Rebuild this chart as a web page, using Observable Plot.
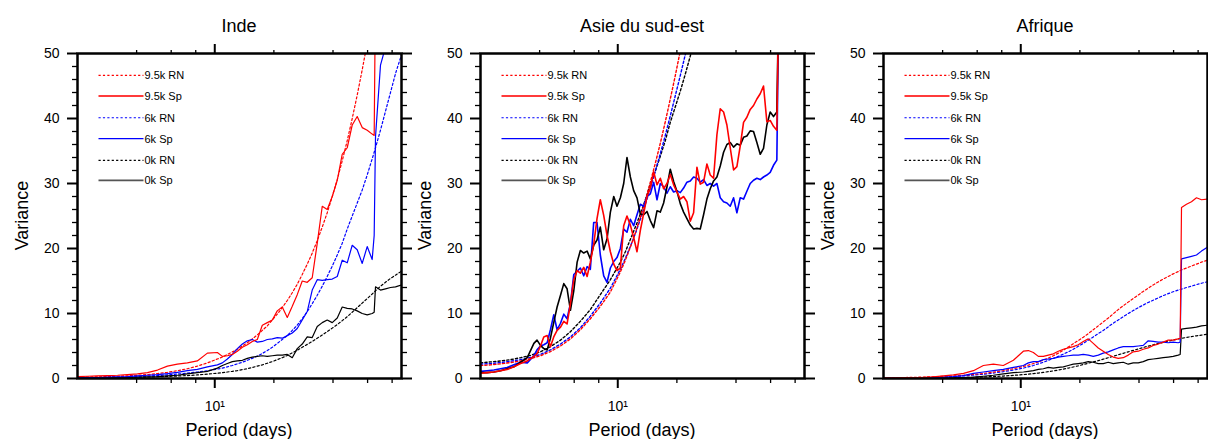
<!DOCTYPE html>
<html><head><meta charset="utf-8">
<script src="https://cdn.jsdelivr.net/npm/d3@7"></script>
<script src="https://cdn.jsdelivr.net/npm/@observablehq/plot@0.6"></script>
<style>
html,body{margin:0;padding:0;background:#fff;}
#chart{position:relative;width:1208px;height:439px;overflow:hidden;font-family:"Liberation Sans",Arial,Helvetica,sans-serif;}
#chart svg{position:absolute;top:0;overflow:visible;}
</style></head><body><div id="chart"></div>
<script>
// ---------- data ----------
const panelTitles = ["Inde", "Asie du sud-est", "Afrique"];
const legendLabels = ["9.5k RN", "9.5k Sp", "6k RN", "6k Sp", "0k RN", "0k Sp"];
const xLabel = "Period (days)";
const yLabel = "Variance";
const yMajorTicks = [0, 10, 20, 30, 40, 50];
const yMinorTicks = [2,4,6,8,12,14,16,18,22,24,26,28,32,34,36,38,42,44,46,48];
const xMajorTicks = [10];
const xMajorTickLabel = "10¹";
const xMinorTicks = [4, 6, 8, 20, 40, 60, 80];

// period grid (days) used by Inde / Afrique spectra and all red-noise curves
const periodsA = [2.00,2.25,2.53,2.84,3.20,3.59,4.04,4.54,5.11,5.74,6.45,7.25,8.15,9.17,10.31,10.93,11.59,12.29,13.03,13.82,14.65,15.53,16.47,17.46,18.51,19.63,20.81,22.06,23.40,24.81,26.30,27.89,29.57,31.35,33.25,35.26,37.38,39.65,42.04,44.57,47.26,50.11,53.13,56.34,59.73,63.32,64.82,65.84,69.80,74.00,78.50,83.22,89.28];
// finer period grid used by Asie du sud-est spectra
const periodsB = [2.00,2.16,2.34,2.53,2.73,2.96,3.20,3.46,3.74,3.88,4.04,4.20,
 4.37,4.54,4.72,4.91,5.11,5.31,5.52,5.74,5.97,6.21,
 6.45,6.71,6.98,7.25,7.54,7.84,8.15,8.48,8.82,9.17,
 9.54,9.91,10.31,10.72,11.14,11.59,12.05,12.53,13.03,13.55,
 14.09,14.65,15.23,15.84,16.47,17.12,17.81,18.51,19.25,20.01,
 20.81,21.64,22.50,23.40,24.33,25.30,26.30,27.35,28.44,29.57,
 30.75,31.98,33.25,34.58,35.95,37.38,38.88,40.42,42.04,43.70,
 45.44,47.26,49.13,51.09,53.13,55.23,57.43,59.73,62.09,64.57,
 66.10];

// Inde
const indeRN95 = [0.2,0.22,0.25,0.3,0.35,0.42,0.5,0.6,0.75,0.95,1.2,1.5,1.9,2.4,3.0,3.3,3.7,4.1,4.5,5.0,5.5,6.1,6.7,7.4,8.1,9.0,9.9,10.9,12.0,13.2,14.5,16.0,17.6,19.3,21.2,23.3,25.5,28.0,30.6,33.5,36.6,40.0,43.6,47.5,51.6];
const indeSp95 = [0.3,0.35,0.4,0.45,0.5,0.6,0.7,0.9,1.3,1.9,2.2,2.4,2.7,3.9,4.0,3.4,3.5,3.7,4.2,4.8,5.2,5.7,6.0,8.2,8.6,9.0,10.4,11.0,9.4,11.1,12.9,15.0,14.8,15.5,20.8,26.5,26.0,28.0,30.5,34.5,35.5,39.0,40.3,38.6,38.2,37.6,37.4,60];
const indeRN6 = [0.15,0.16,0.18,0.2,0.23,0.27,0.32,0.38,0.46,0.56,0.68,0.83,1.0,1.2,1.45,1.6,1.8,2.0,2.25,2.5,2.8,3.1,3.45,3.85,4.3,4.8,5.4,6.0,6.6,7.4,8.2,9.2,10.3,11.5,12.8,14.2,15.7,17.3,19.0,20.8,23.0,25.0,27.0,29.0,31.3,33.8,34.8,35.5,38.2,41.1,44.0,46.9,49.8];
const indeSp6 = [0.1,0.12,0.15,0.2,0.25,0.3,0.4,0.5,0.6,0.75,0.95,1.2,1.4,1.8,2.1,2.4,3.0,3.7,4.6,5.3,5.8,6.0,5.6,5.7,6.0,6.1,6.3,6.2,6.6,7.0,7.7,9.0,10.3,13.6,15.2,15.1,15.2,15.3,15.7,18.2,17.8,20.5,19.8,17.7,20.3,18.3,22.0,37.2,48.2,51];
const indeRN0 = [0.1,0.11,0.12,0.13,0.15,0.17,0.2,0.23,0.27,0.32,0.38,0.45,0.55,0.67,0.82,0.9,1.0,1.1,1.22,1.36,1.52,1.7,1.9,2.1,2.35,2.6,2.9,3.2,3.55,3.95,4.35,4.8,5.25,5.7,6.2,6.7,7.2,7.75,8.3,8.9,9.5,10.2,10.9,11.6,12.3,13.0,13.3,13.5,14.2,14.8,15.4,15.9,16.5];
const indeSp0 = [0.05,0.05,0.08,0.1,0.12,0.15,0.2,0.25,0.3,0.4,0.5,0.7,0.9,1.1,1.6,2.0,2.3,2.6,2.7,2.8,3.1,3.3,3.4,3.5,3.4,3.5,3.6,3.6,3.7,3.2,4.6,5.3,6.4,6.3,8.0,8.6,9.0,8.6,9.3,11.0,10.8,10.7,10.4,10.0,9.8,10.0,10.2,14.1,13.6,13.8,14.0,14.1,14.4];

// Asie du sud-est
const aseRN95 = [2.0,2.1,2.25,2.45,2.7,3.05,3.5,4.15,5.0,6.1,7.5,9.2,11.1,13.3,16.4,18.2,20.2,22.4,24.8,27.4,30.2,33.1,36.2,39.5,43.0,46.6,50.4];
const aseRN6 = [2.2,2.3,2.45,2.65,2.9,3.25,3.7,4.4,5.3,6.4,7.8,9.6,11.6,13.9,16.8,18.5,20.3,22.3,24.5,26.8,29.3,31.9,34.6,37.4,40.4,43.5,46.6,49.8,53.1];
const aseRN0 = [2.4,2.55,2.7,2.9,3.2,3.55,4.1,4.9,5.9,7.2,8.8,10.6,12.9,15.2,17.9,19.5,21.4,23.3,25.3,27.5,29.9,31.9,34.2,36.6,39.4,41.8,44.2,46.8,49.6,52.5];
const aseSp95 = [0.8,0.9,1.0,1.2,1.4,1.8,2.3,2.7,3.4,3.8,5.0,6.4,
 6.6,4.9,6.4,7.4,7.9,8.8,8.4,11.5,15.2,16.6,
 16.2,17.1,15.7,17.9,20.6,24.6,27.5,25.1,22.0,19.5,
 17.6,16.6,17.0,23.5,25.0,23.6,21.7,19.5,22.8,25.4,
 28.0,29.3,31.8,29.8,30.8,29.2,30.0,31.4,29.8,28.7,
 27.6,28.0,27.2,24.2,25.5,32.5,29.9,30.2,33.0,31.3,
 30.8,37.5,41.5,41.0,39.0,35.5,32.1,32.6,35.8,39.4,
 40.2,41.4,42.0,43.0,43.8,45.0,39.5,39.7,38.8,38.2,
 60];
const aseSp6 = [1.1,1.2,1.3,1.5,1.7,2.1,2.5,2.4,3.5,4.4,5.0,5.2,
 5.5,7.5,9.8,7.5,8.5,9.9,9.2,11.5,16.0,16.5,
 17.0,15.8,17.2,16.8,24.0,24.0,19.0,15.8,14.8,17.0,
 18.0,18.6,20.0,23.0,22.5,24.5,23.5,25.2,26.8,26.5,
 28.0,28.4,30.2,27.5,30.0,29.5,28.5,29.5,28.7,28.9,
 28.6,29.3,30.2,30.4,31.0,30.8,30.2,30.6,29.7,30.0,
 29.6,30.0,27.8,27.2,27.0,26.5,27.8,25.5,27.8,27.6,
 28.8,30.0,30.5,30.8,30.6,31.0,31.3,31.7,32.8,33.6,
 60];
const aseSp0 = [0.9,0.9,1.0,1.2,1.5,1.8,2.5,3.2,5.4,5.9,5.1,4.6,
 4.4,6.2,8.6,11.0,12.8,14.6,13.8,10.5,13.5,17.9,
 19.7,19.3,19.6,18.4,20.5,21.3,23.3,19.8,21.5,25.6,
 28.0,26.5,27.8,30.0,34.0,31.0,28.9,27.8,25.3,25.2,
 25.7,24.3,23.2,25.8,25.6,27.0,29.5,32.2,30.3,28.8,
 26.9,25.6,24.6,23.6,23.0,23.1,23.0,25.2,27.6,29.2,
 30.4,31.0,32.7,34.8,36.0,36.3,35.6,36.1,35.9,37.1,
 37.3,38.1,38.0,36.3,34.5,35.4,39.0,41.0,40.3,41.0,
 60];

// Afrique
const afrRN95 = [0.1,0.12,0.15,0.18,0.22,0.27,0.33,0.4,0.5,0.62,0.78,0.98,1.22,1.5,1.85,2.05,2.3,2.55,2.85,3.15,3.5,3.9,4.35,4.85,5.35,5.85,6.35,6.9,7.5,8.1,8.7,9.3,9.95,10.6,11.2,11.75,12.3,12.85,13.4,13.9,14.4,14.85,15.3,15.7,16.1,16.45,16.6,16.7,17.0,17.3,17.6,17.9,18.2];
const afrSp95 = [0.1,0.1,0.12,0.15,0.18,0.25,0.4,0.55,0.8,1.2,2.0,2.2,2.0,2.8,4.2,4.3,4.0,3.4,3.4,3.6,3.8,4.2,4.5,4.7,4.9,5.2,5.7,6.1,5.4,4.7,4.2,3.7,3.3,3.1,3.2,3.6,4.1,4.2,4.5,4.7,5.1,5.3,5.6,5.9,5.9,6.1,6.2,26.3,26.8,27.2,27.8,27.5,27.6];
const afrRN6 = [0.05,0.06,0.08,0.1,0.13,0.17,0.22,0.3,0.4,0.52,0.66,0.84,1.05,1.3,1.6,1.8,2.0,2.25,2.5,2.8,3.1,3.4,3.75,4.1,4.5,4.95,5.4,5.9,6.4,6.9,7.4,7.95,8.5,9.0,9.5,10.0,10.45,10.9,11.3,11.7,12.05,12.4,12.75,13.05,13.35,13.6,13.7,13.75,14.0,14.2,14.45,14.65,14.9];
const afrSp6 = [0.05,0.05,0.08,0.1,0.12,0.15,0.2,0.3,0.45,0.8,1.0,1.2,1.4,1.7,2.0,2.4,2.6,2.6,2.9,3.0,3.1,3.3,3.4,3.5,3.6,3.6,3.7,3.6,3.4,3.6,3.9,4.1,4.4,4.7,4.9,4.9,4.9,5.0,5.1,5.8,5.7,5.6,5.6,5.5,5.6,5.5,5.6,18.4,18.6,18.8,19.0,19.6,20.2];
const afrRN0 = [0.03,0.04,0.05,0.06,0.07,0.085,0.1,0.12,0.15,0.19,0.24,0.3,0.38,0.48,0.6,0.67,0.75,0.84,0.94,1.05,1.17,1.3,1.45,1.6,1.77,1.95,2.15,2.35,2.55,2.75,2.97,3.2,3.42,3.65,3.87,4.1,4.32,4.55,4.77,4.98,5.18,5.38,5.57,5.75,5.92,6.08,6.14,6.18,6.32,6.45,6.57,6.68,6.8];
const afrSp0 = [0.02,0.03,0.04,0.05,0.06,0.07,0.08,0.1,0.15,0.2,0.35,0.5,0.7,0.9,1.0,1.1,1.2,1.4,1.5,1.7,1.6,1.7,1.8,2.0,2.2,2.3,2.4,2.6,2.5,2.3,2.3,2.5,2.3,2.4,2.5,2.2,2.4,2.4,2.6,2.9,3.0,3.1,3.2,3.3,3.4,3.6,3.7,7.6,7.7,7.8,7.9,8.1,8.2];

// ---------- drawing ----------
const RED = "#ff0000", BLUE = "#0000ff", BLACK = "#000000";
const FONT = '"Liberation Sans", Arial, Helvetica, sans-serif';
const W = 420, H = 439, ML = 77, MR = 19, MT = 53, MB = 61;

function rows(periods, values) {
  return values.map((v, i) => ({period: periods[i], value: v}));
}

const panels = [
  {title: panelTitles[0], left: 0, lw: 1.2, dw: 1.2, series: [
    {p: periodsA, v: indeRN0, c: BLACK, dash: true}, {p: periodsA, v: indeRN6, c: BLUE, dash: true}, {p: periodsA, v: indeRN95, c: RED, dash: true},
    {p: periodsA, v: indeSp0, c: BLACK}, {p: periodsA, v: indeSp6, c: BLUE}, {p: periodsA, v: indeSp95, c: RED}]},
  {title: panelTitles[1], left: 402.5, lw: 1.6, dw: 1.4, series: [
    {p: periodsA, v: aseRN0, c: BLACK, dash: true}, {p: periodsA, v: aseRN6, c: BLUE, dash: true}, {p: periodsA, v: aseRN95, c: RED, dash: true},
    {p: periodsB, v: aseSp6, c: BLUE}, {p: periodsB, v: aseSp0, c: BLACK}, {p: periodsB, v: aseSp95, c: RED}]},
  {title: panelTitles[2], left: 806, lw: 1.2, dw: 1.2, series: [
    {p: periodsA, v: afrRN0, c: BLACK, dash: true}, {p: periodsA, v: afrRN6, c: BLUE, dash: true}, {p: periodsA, v: afrRN95, c: RED, dash: true},
    {p: periodsA, v: afrSp0, c: BLACK}, {p: periodsA, v: afrSp6, c: BLUE}, {p: periodsA, v: afrSp95, c: RED}]}
];

const legendStyles = [
  {c: RED, w: 1.1, dash: "2.2,2.2"}, {c: "#ff3b3b", w: 1.8},
  {c: BLUE, w: 1.1, dash: "2.2,2.2"}, {c: BLUE, w: 1.3},
  {c: BLACK, w: 1.1, dash: "2.2,2.2"}, {c: "#555555", w: 1.8}
];
const legendRowY = [22.4, 43.0, 64.7, 85.7, 107.4, 127.4];

const chart = document.getElementById("chart");

for (const cfg of panels) {
  const marks = [];
  for (const s of cfg.series) {
    marks.push(Plot.line(rows(s.p, s.v), {
      x: "period", y: "value", stroke: s.c,
      strokeWidth: s.dash ? cfg.dw : cfg.lw,
      strokeDasharray: s.dash ? "2.2,2.2" : undefined,
      clip: true
    }));
  }
  marks.push(Plot.frame({stroke: "black", strokeWidth: 2.5}));
  // y axes (left labelled, right unlabelled), outward ticks
  marks.push(Plot.axisY(yMajorTicks, {anchor: "left", tickSize: 10, tickPadding: 8, strokeWidth: 2, fontSize: 14, tickFormat: d => String(d), label: null}));
  marks.push(Plot.axisY(yMinorTicks, {anchor: "left", tickSize: 5, strokeWidth: 1.3, tickFormat: () => "", label: null}));
  marks.push(Plot.axisY(yMajorTicks, {anchor: "right", tickSize: 10, strokeWidth: 2, tickFormat: () => "", label: null}));
  marks.push(Plot.axisY(yMinorTicks, {anchor: "right", tickSize: 5, strokeWidth: 1.3, tickFormat: () => "", label: null}));
  // x axes
  marks.push(Plot.axisX(xMajorTicks, {anchor: "bottom", tickSize: 10, tickPadding: 13, strokeWidth: 2, fontSize: 14, tickFormat: () => xMajorTickLabel, label: null}));
  marks.push(Plot.axisX(xMinorTicks, {anchor: "bottom", tickSize: 5, strokeWidth: 1.3, tickFormat: () => "", label: null}));
  marks.push(Plot.axisX(xMajorTicks, {anchor: "top", tickSize: 10, strokeWidth: 2, tickFormat: () => "", label: null}));
  marks.push(Plot.axisX(xMinorTicks, {anchor: "top", tickSize: 4, strokeWidth: 1.3, tickFormat: () => "", label: null}));

  const svg = Plot.plot({
    width: W, height: H,
    marginLeft: ML, marginRight: MR, marginTop: MT, marginBottom: MB,
    x: {type: "log", domain: [2, 89.3], label: null},
    y: {domain: [0, 50], label: null},
    style: {fontFamily: FONT, background: "transparent", overflow: "visible", color: "black"},
    marks
  });
  svg.style.left = cfg.left + "px";

  const sel = d3.select(svg);
  const cx = ML + (W - ML - MR) / 2;
  const cy = MT + (H - MT - MB) / 2;
  sel.append("text").attr("x", cx).attr("y", 31.5).attr("text-anchor", "middle")
    .attr("font-size", 18).attr("font-family", FONT).attr("fill", "black").text(cfg.title);
  sel.append("text").attr("transform", `translate(28,${cy}) rotate(-90)`).attr("text-anchor", "middle")
    .attr("font-size", 18).attr("font-family", FONT).attr("fill", "black").text(yLabel);
  sel.append("text").attr("x", cx).attr("y", 436).attr("text-anchor", "middle")
    .attr("font-size", 18).attr("font-family", FONT).attr("fill", "black").text(xLabel);

  const lg = sel.append("g").attr("transform", `translate(${ML},${MT})`);
  legendLabels.forEach((lab, i) => {
    const st = legendStyles[i];
    const y = legendRowY[i];
    lg.append("line").attr("x1", 21.5).attr("x2", 66.5).attr("y1", y).attr("y2", y)
      .attr("stroke", st.c).attr("stroke-width", st.w).attr("stroke-dasharray", st.dash || null);
    lg.append("text").attr("x", 67.5).attr("y", y).attr("dy", "0.35em").attr("text-anchor", "start")
      .attr("font-size", 11).attr("font-family", FONT).attr("fill", "black").text(lab);
  });

  chart.appendChild(svg);
}
</script>
</body></html>
